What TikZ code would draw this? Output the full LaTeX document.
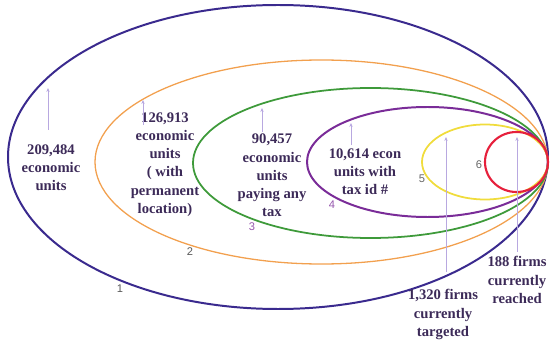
\documentclass[tikz,border=0pt]{standalone}
\usepackage{fontspec}
\setmainfont{Liberation Serif}
\newfontfamily\numfont{Liberation Sans}
\usetikzlibrary{arrows.meta}
\definecolor{eblue}{HTML}{3A2A8E}
\definecolor{eorange}{HTML}{F2A04E}
\definecolor{egreen}{HTML}{3E9A3A}
\definecolor{epurple}{HTML}{7A2C98}
\definecolor{eyellow}{HTML}{F0DC3C}
\definecolor{ered}{HTML}{E6203C}
\definecolor{etext}{HTML}{3C2A58}
\definecolor{eline}{HTML}{B8A8E0}
\tikzset{
  >={Stealth[length=1.2mm,width=1mm]},
  eset/.style={line width=1.6pt},
  elbl/.style={text=etext, align=center, inner sep=0pt,
               font=\fontsize{12.5}{15.5}\selectfont\bfseries},
  enum/.style={inner sep=0pt, font=\numfont\fontsize{9.5}{11}\selectfont},
  eptr/.style={->, draw=eline, line width=0.45pt},
}

\begin{document}
\begin{tikzpicture}[x=0.03cm,y=-0.03cm]
  \useasboundingbox (0,0) rectangle (552,342);

  % conjuntos encaixados
  \foreach \cx/\cy/\rx/\ry/\c/\w in {278/157/270/152/eblue/1.7,
      321.5/162/226.5/102/eorange/1.1, 370.5/163/177.5/75/egreen/1.5,
      427.5/162/120.5/55/epurple/1.7, 485/162/63/37.5/eyellow/1.5,
      516.5/162/31.5/30/ered/1.8}
    \draw[eset, draw=\c, line width=\w pt] (\cx,\cy) ellipse [x radius=\rx, y radius=\ry];

  % numeros
  \node[enum, text=black!65] (n1) at (120,289) {1};
  \node[enum, text=black!65] (n2) at (190,252) {2};
  \node[enum, text=epurple!80] (n3) at (252,227) {3};
  \node[enum, text=epurple!80] (n4) at (332,205) {4};
  \node[enum, text=black!60] (n5) at (422,179) {5};
  \node[enum, text=black!60] (n6) at (479,165) {6};

  % rotulos
  \node[elbl] (l1) at (51,168) {209,484\\economic\\units};
  \node[elbl] (l2) at (165,164.5) {126,913\\economic\\units\\( with\\permanent\\location)};
  \node[elbl] (l3) at (272,175.5) {90,457\\economic\\units\\paying any\\tax};
  \node[elbl] (l4) at (365,171.5) {10,614 econ\\units with\\tax id \#};
  \node[elbl] (l5) at (443,314.5) {1,320 firms\\currently\\targeted};
  \node[elbl] (l6) at (517,280) {188 firms\\currently\\reached};

  % setas
  \foreach \i/\x/\ya/\yb in {1/48/130/88, 2/143/125/100, 3/262/132/108,
      4/351/145/123, 5/446/272/137, 6/517/252/137}{
    \coordinate (b\i) at (\x,\ya);
    \coordinate (t\i) at (\x,\yb);
    \draw[eptr] (b\i) -- (t\i);
  }

\end{tikzpicture}
\end{document}
